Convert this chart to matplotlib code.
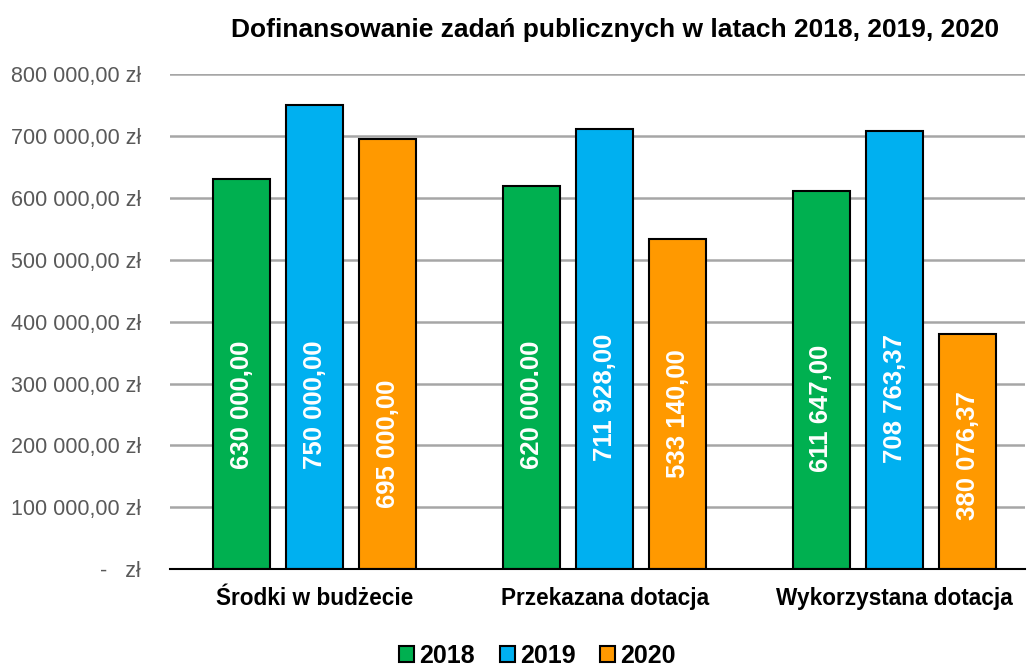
import matplotlib.pyplot as plt
import numpy as np

plt.rcParams['font.family'] = ['Liberation Sans', 'DejaVu Sans']

# Dane: kwoty dofinansowania w kolejnych latach
categories = ["Środki w budżecie", "Przekazana dotacja", "Wykorzystana dotacja"]
years = ["2018", "2019", "2020"]
values_2018 = [630000.00, 620000.00, 611647.00]
values_2019 = [750000.00, 711928.00, 708763.37]
values_2020 = [695000.00, 533140.00, 380076.37]
labels_2018 = ["630 000,00", "620 000.00", "611 647,00"]
labels_2019 = ["750 000,00", "711 928,00", "708 763,37"]
labels_2020 = ["695 000,00", "533 140,00", "380 076,37"]
yticks = [0, 100000, 200000, 300000, 400000, 500000, 600000, 700000, 800000]

colors = ["#00B050", "#00B0F0", "#FF9900"]
# pionowe położenie podpisów wewnątrz słupków
label_pos = [[265000, 265000, 260000],
             [265000, 277000, 275000],
             [202000, 252000, 184000]]

def fmt_pln(v):
    if v == 0:
        return "-   zł"
    s = f"{v:,.2f}".replace(",", " ").replace(".", ",")
    return s + " zł"

fig = plt.figure(figsize=(10.27, 6.68), dpi=100)
ax = fig.add_axes([0.1655, 0.148, 0.8325, 0.741])

x = np.arange(len(categories))
width = 0.197
step = 0.252
series = [values_2018, values_2019, values_2020]
labels = [labels_2018, labels_2019, labels_2020]

for i, (vals, labs) in enumerate(zip(series, labels)):
    xs = x + (i - 1) * step
    ax.bar(xs, vals, width, color=colors[i], edgecolor="black", linewidth=1.5,
           label=years[i], zorder=3)
    for j, (xx, lab) in enumerate(zip(xs, labs)):
        ax.text(xx, label_pos[i][j], lab, rotation=90, ha="center", va="center",
                color="white", fontsize=18.5, fontweight="bold", zorder=4)

ax.set_xlim(-0.5, 2.45)
ax.set_ylim(0, 800000)
ax.set_yticks(yticks)
ax.set_yticklabels([fmt_pln(v) for v in yticks], fontsize=15.5, color="#595959")
ax.set_xticks(x)
ax.set_xticklabels(categories, fontsize=16.3, fontweight="bold")
ax.tick_params(axis="both", length=0)
ax.tick_params(axis="y", pad=21)
ax.tick_params(axis="x", pad=13)
ax.grid(axis="y", color="#a6a6a6", linewidth=1.8, zorder=0)
for side in ["top", "right", "left"]:
    ax.spines[side].set_visible(False)
ax.spines["bottom"].set_color("black")
ax.spines["bottom"].set_linewidth(1.5)
ax.spines["bottom"].set_zorder(5)

fig.text(0.599, 0.955, "Dofinansowanie zadań publicznych w latach 2018, 2019, 2020",
         ha="center", va="center", fontsize=19, fontweight="bold")

ax.legend(loc="lower center", bbox_to_anchor=(0.43, -0.245), ncol=3, frameon=False,
          prop={"size": 18, "weight": "bold"}, handlelength=0.6, handleheight=0.6,
          handletextpad=0.2, columnspacing=1.0)

fig.savefig("out.png", dpi=100)
